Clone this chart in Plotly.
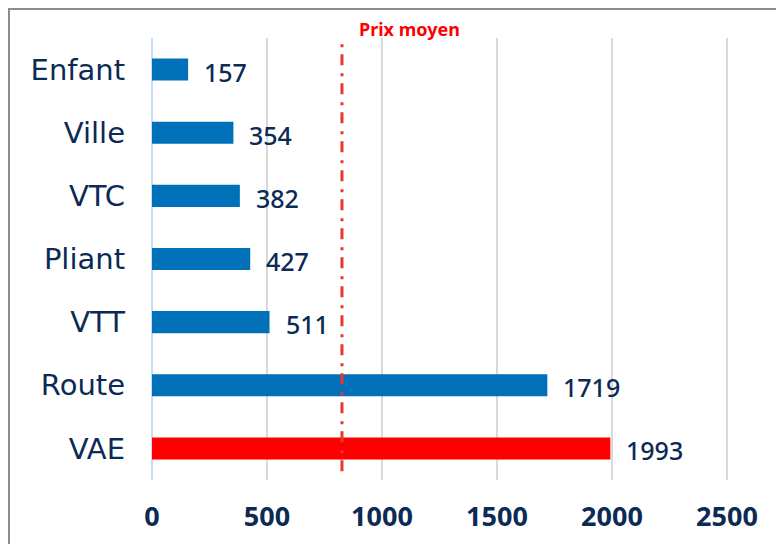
import plotly.graph_objects as go

categories = ["Enfant", "Ville", "VTC", "Pliant", "VTT", "Route", "VAE"]
prices = [157, 354, 382, 427, 511, 1719, 1993]
bar_colors = ["#0070b8"] * 6 + ["#ff0000"]
prix_moyen = 826
x_ticks = [0, 500, 1000, 1500, 2000, 2500]

navy = "#0b2a55"
font_family = "Noto Sans, Lato, sans-serif"

fig = go.Figure(
    go.Bar(
        x=prices,
        y=categories,
        orientation="h",
        marker=dict(color=bar_colors, line=dict(width=0)),
        width=0.35,
        hoverinfo="x+y",
    )
)

for cat, val in zip(categories, prices):
    fig.add_annotation(
        x=val, y=cat, text=str(val), showarrow=False,
        xanchor="left", xshift=14, yshift=-2,
        font=dict(size=25, color=navy, family=font_family, weight=500),
    )

fig.add_shape(
    type="line", xref="x", yref="paper",
    x0=prix_moyen, x1=prix_moyen, y0=0.02, y1=1.0,
    line=dict(color="#e8382c", width=3, dash="11px,7px,3px,8px"),
)
fig.add_annotation(
    x=prix_moyen, y=1.0, xref="x", yref="paper", text="<b>Prix moyen</b>",
    showarrow=False, xanchor="left", yanchor="middle", xshift=15, yshift=9,
    font=dict(size=18, color="#ff0000", family=font_family),
)

# frame around the chart, cut off at right and bottom
fig.add_shape(
    type="rect", xref="paper", yref="paper",
    x0=-0.2263, x1=1.2, y0=-0.4, y1=1.0656,
    line=dict(color="#8c8c8c", width=2), layer="below",
)

fig.update_layout(
    width=784,
    height=544,
    plot_bgcolor="white",
    paper_bgcolor="white",
    showlegend=False,
    margin=dict(l=144, r=8, t=30, b=72),
    font=dict(family=font_family, color=navy),
    xaxis=dict(
        range=[0, 2748],
        tickvals=x_ticks,
        tickfont=dict(size=27, color=navy, family="Noto Sans", weight="bold"),
        ticklabelstandoff=18,
        showgrid=True,
        gridcolor="#d9d9d9",
        gridwidth=1.5,
        zeroline=True,
        zerolinecolor="#c6dcf4",
        zerolinewidth=2,
        showline=False,
        automargin=False,
    ),
    yaxis=dict(
        categoryorder="array",
        categoryarray=categories[::-1],
        tickfont=dict(size=29, color=navy, family="DejaVu Sans"),
        ticklabelstandoff=26,
        showgrid=False,
        zeroline=False,
        showline=False,
        automargin=False,
    ),
)

fig.write_html("out.html")
